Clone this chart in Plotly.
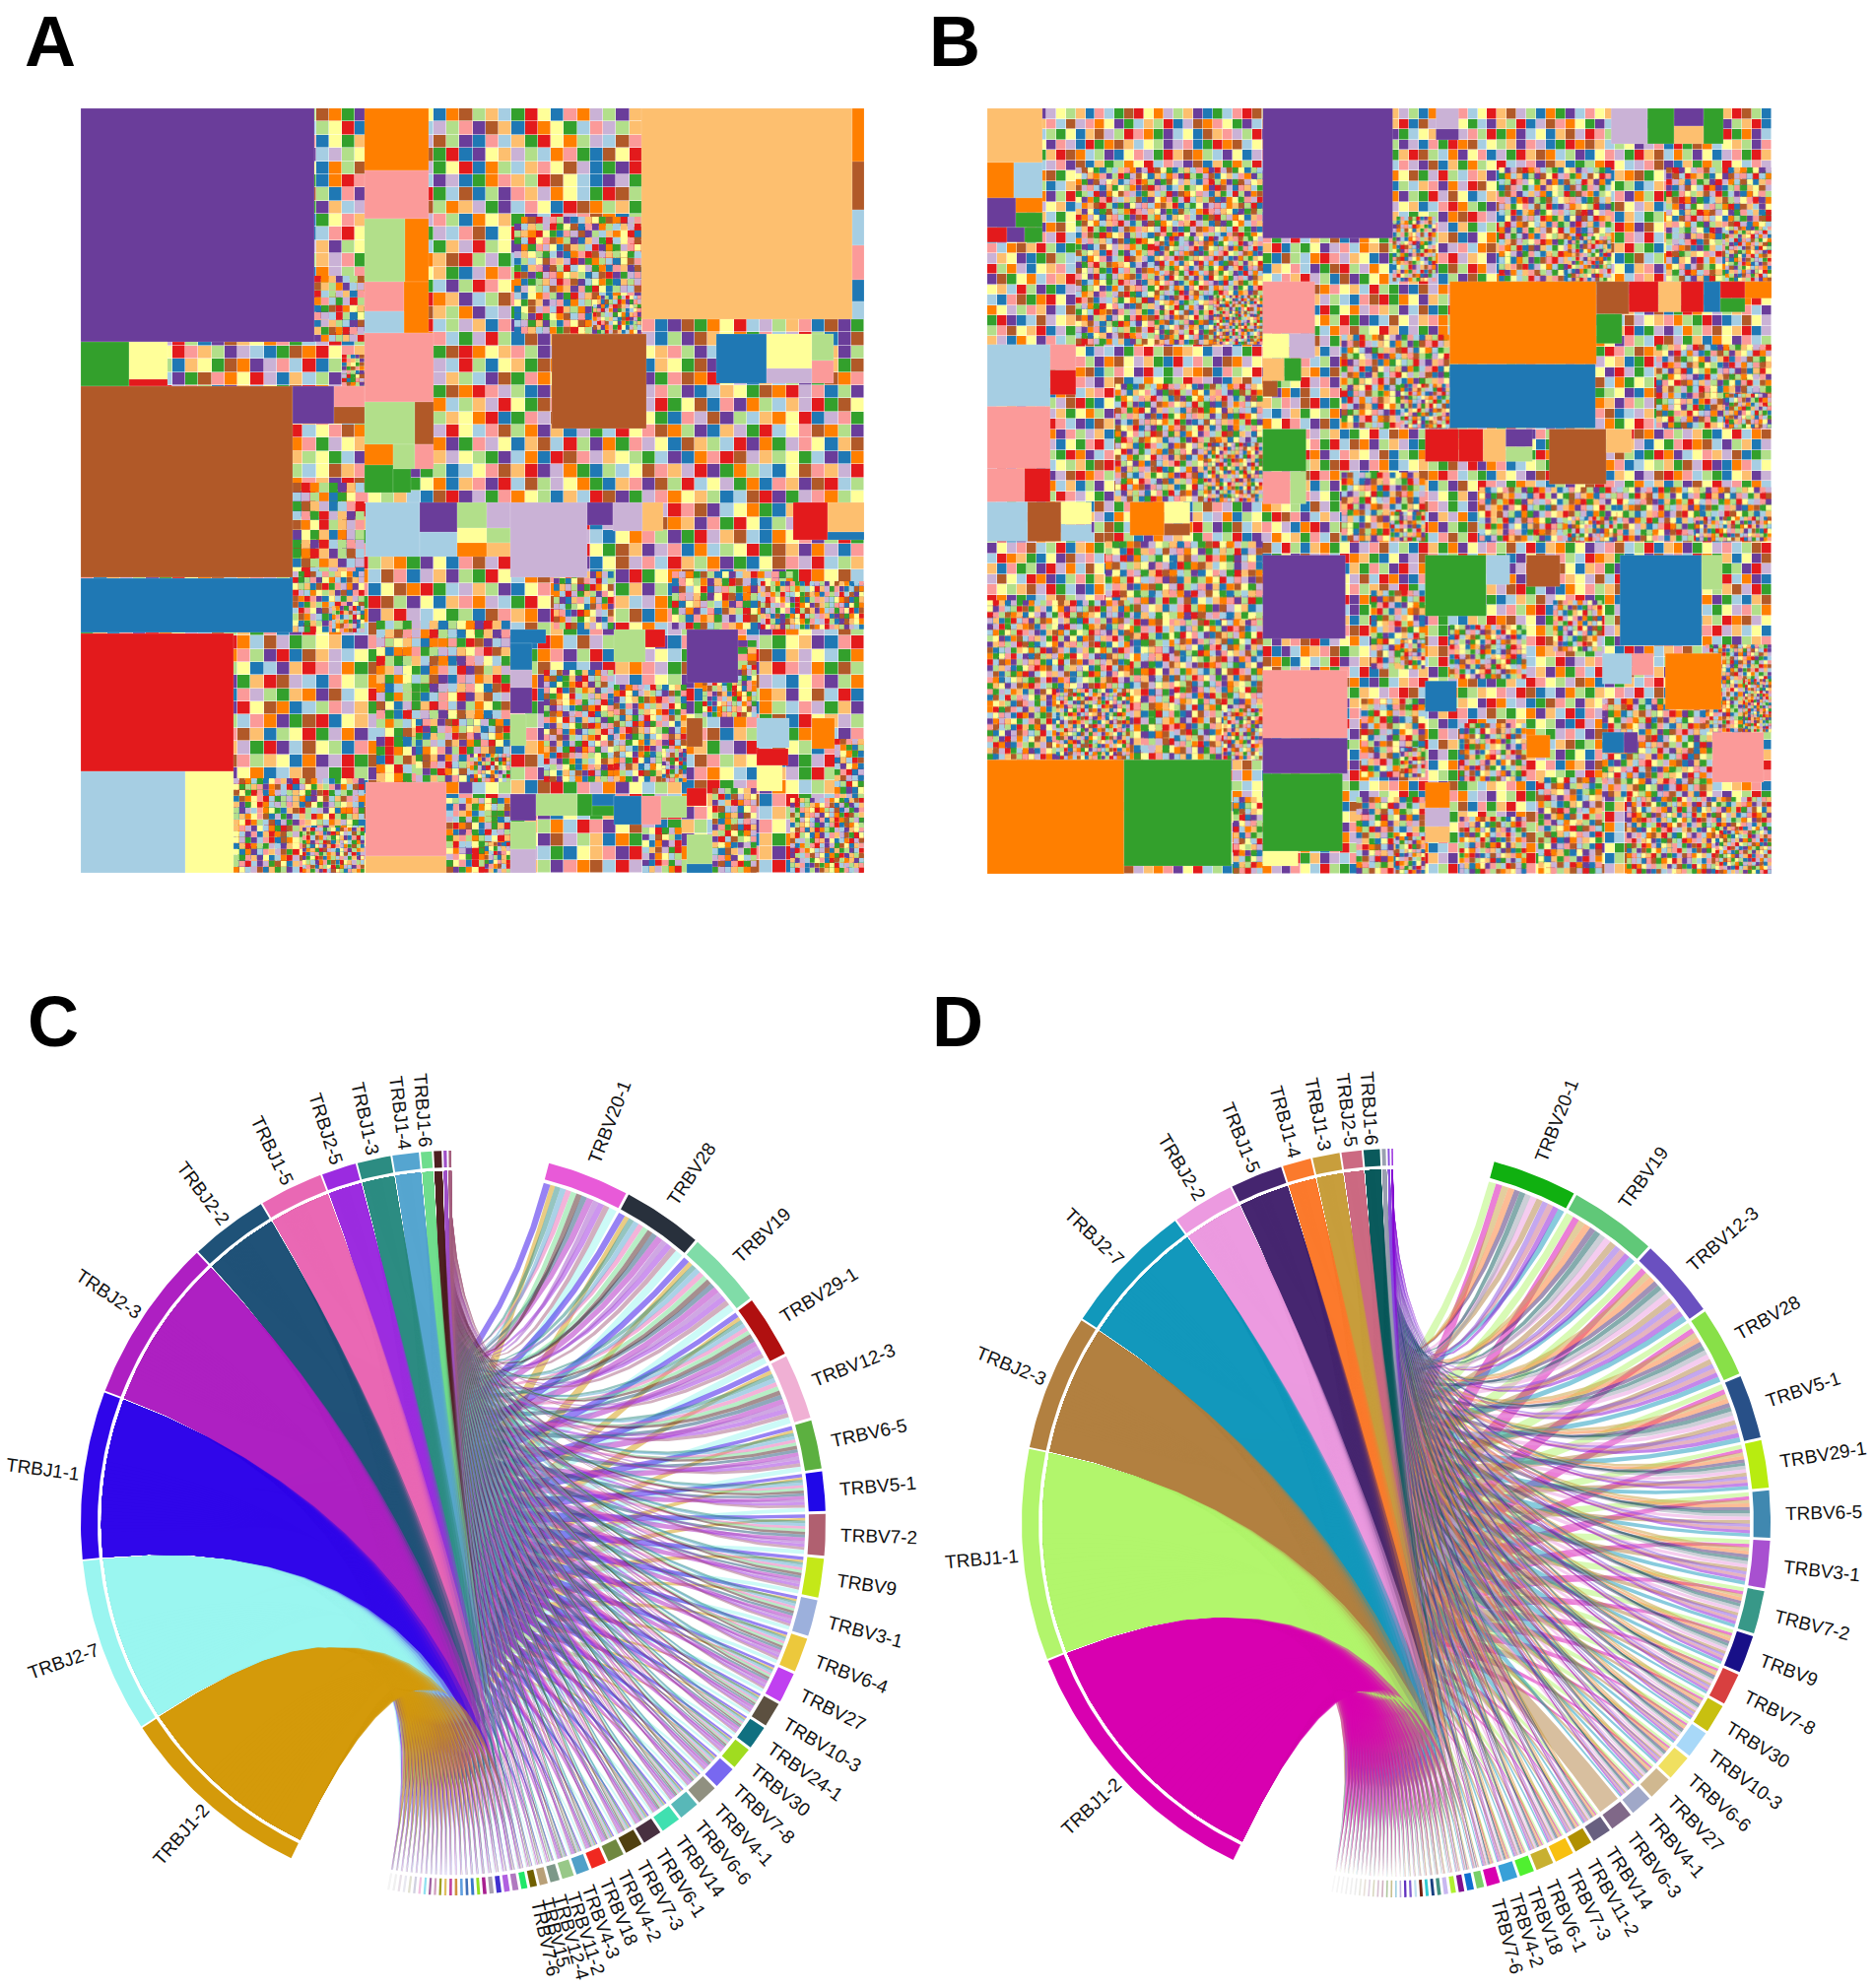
import numpy as np
import plotly.graph_objects as go

PALETTE = dict(a="#a6cee3", b="#1f78b4", c="#b2df8a", d="#33a02c", e="#fb9a99", f="#e31a1c",
               g="#fdbf6f", h="#ff7f00", i="#cab2d6", j="#6a3d9a", k="#ffff99", l="#b15928")
LETTERS = "abcdefghijkl"

# ---- treemap A: colour letter of each small cell, row by row
A_CELLS = """
dacdiagbckhjfgbigclhdjfaeikbhlcgadfkbehicjgalkdfebhiacgkdjlf
agleihfcabkdgjeliackfbhgdkaicejlgbfhkdaeicgjblhkefadcighbjkl
ickgabhhedfljaigcebkdgahfkilcjbeagdfkhcialebgjdkfhaicegblkdj
kbhhedciagkeflgdbjaickhgaeldfbjkgicahedblkfgcjiaehkdbglfcaij
fcdcgalhbjeikadgfkbhclaegjidkfbhcageklibdjfacghkelbidjagcfhk
hgikdbheafjlcgiakdbhfeclgkajibdhegcflkabjidegkfhcalbidjegkca
gdhkacljbeihgfdkalcbejhigkfdalbcjegihkadflcbgeijkahdflcgibej
hbacddjiagekblfhcdjgaiekfblchgidjaekbflhcgdikajebgfhlcidkaeg
idhcdbaekfjglaichbdkegfjaliecbhkgdjafielhbcgkidjaefblhkcgiad
lkbidgfeajchkdlgibaefkhcjgdiaelbkfhcgdjiaklebgfhcdiajgkeblfh
edbfaicjklghbaedfigjckhbleadgifckjbhaleidgfckbhjaegildfkchbj
chcakfgidejbalhkfcgiedjbakhglfcidaejkbghflaicdegjkbahfilcdge
akdlghbecifaljkdgbhicefajlkgdbihecafjdklgibhcefajidlkbgehcfa
jfdbcegiakhlbdgjfaceihklbgdajcfekhilagbdcjfehkailbgdcjafekhi
dfhkjlgcaeibkdhfgjclaeikbdfhgjaclekibdhfgjcaelikbhdfjgclaiek
bfclgjhaidekfblchgjaidkebflgchjaidkefblchgjiadkebflchgjaidke
hkfaciegbjldhkfacigebjlkhdfacigbejldkhfaicgebjldhkfaicgebljd
gkhdeaifcbjlgkhedaifbcjlkgheadifcbljgkhedafibcjlgkhdeaifcbjl
iadblhkfegcjiabdlhfkegcjaibdlfhkgecjiabldhfkgecjaibdlhfkegjc
hjeiafcbgkdlhjieafbcgkldjheiafcbkgdlhjeifacbgkdljhieafbckgdl
kfbigcajdlehkfibgacjdlehfkbigcajldehkfibgacjdelhfkibgacjdlhe
agkdlhfiecbjgakdlfhiecbjakgdlhfeicbjgakdhlfiecjbagkdlhfiebcj
ebjhacgifdklebhjacgfidklbejhacgifkdlebhjagcifdklbejhcagifdlk
ljacghkfbdeiljcaghfkbdielajcgkhfbdeiljacghfkdbeiljcaghkfbied
bgidfkaelhcjgbidfakelhjcbgdifkaelchjgbidafkelhcjbgidfakelhcj
cafjhdeikbgladfjhedikgblcafhjdeikbglafcjhdeikblgcafjhdiekbgl
felgikcdajhbfleigckdajhbeflgikcdjahbfleigkcdajbhefligckdajbh
jhdcbaklegfijdhbcaklgefihjdcbakelgfjihdbcaklegifjdhcabklegif
kidhbgejlfacikdbhegjflcaidkhbgejfalcikhdbgejlcfakidhbegjlfac
gbalfjidehckbgaljfidhekcgablfjidehkcbgafljdiehkgcbalfjdiehck
jakhdbcgiefljkahbdgcifelakjhdbcgeiflajkhbdcgifeljakhdbgcifle
defkbcialghjdefbkiaclgjhedfkbicalghjdefbikcalhgjedfkbcialgjh
iglbahkejcdfgilabkhejdcfilgbahkjecdfgliabkhecjdfiglabhkejcfd
cakfdlgijhebackdflgijebhcakfldgjihebacfkdlgjiebhackfdlgjhibe
hdjkbleiafgchjdbklieafcghdjkbelifagchdjbklieafgchjdbkleifacg
ebgicjdfkhlageicbjdfkhalebigjcdfkahlegibcjfdkhlaebgicjdfhkla
lhfaidgcjbekhlaifdgcjebklhfdaigcjbkehlfaidgjcbeklhafidgcjekb
kjcbgehaidflkcjbegahidflcjkbgehiadfkljcbegaihdlfkcjbgeahidfl
fiadkclbehgjifdakcblehjgfiakdcbleghjfidakclbhejgfiadckblehjg
dgbejfhkialcgdebjfkhialcdgebjhfkialcgdbejfkhaicldgebjfhkialc
ahlicdkgjbefhalidckgbjefahlidckgjebfhalicdgkjbefalhicdkgjbef
jecfbligkadhecjfblgiakdhjecbfliakgdhejcfblgikadhjecflbgikadh
bkjagfheidlckbajgfeihdlcbkjagfhiedclkbajfgheidlcbkajgfeihdlc
gdflaibkechjdgfliabekchjgdflibakechjdgflaibekcjhgdfliabkejch
iecdhgjlkafbeicdghjlakfbiecdhjglkafbeicdghlkjafbiedchgjklafb
kflbhcaeigdjfklhbaceigdjkflbhcaigedjfkbhlcaeigjdkflbhcaeidgj
ahjedlbfgkicaehjdlfbkgicahjedblfgkciahejdlbfgikcajhedlbfkgic
lbgcfkdhiajelgbckfdihjaeblgcfkhdiaejlgbcfkdhijaelbgckfdhiaje
dijfalckebhgidfjalkcbehgdijaflckebghidfjalckebhgdijfalkcbegh
cegkhbjidfalecgkbhjifdlaceghkbjidflaecgkhbijdfalecgkhbjdifla
hkablgidfcejkhbaglidfcjehakblgifdcejkhablgidcfjehkablgidfcej
fdiehjkacgblfdeijhkacblgfdiehjakcgblfdeihjkacgblfdiejhkacgbl
gcjlbefdiahkcgljbfedihakgcjlbedfiahkcgjlbefdiahkgcjlbefdiakh
kbdiagchlfejbkdagichflejkbdiagclhfejbkadgichlfjekbdiagchlfej
ahfejkilbdgchafjeklidbgcahfekjilbdgchafejklibdgcahfjekilbdgc
ilcbhgdafekjlicbgdhafkejilcbhgdafekjlicgbhdafejkilcbgdhafekj
bdkgejfclihadbkegfjclihabdkgejfclhiadbkgejfcilhadbkegjfclhia
ejhalfibkdgcjehlafibdkgcejhalifkbdgcjehlafibkdcgejhlafbikdgc
""".split()

# ---- treemap B: colour letter of each small cell, row by row
B_CELLS = """
gddhljikcgbeadlfkhicgjbdaeflkigchbjdafkelgicbhdjeakfglicbhdjaekgflcibhdjkaegflcb
ckbfdgealiehkjdagcfbilhekdjagcfbiehlkdjacgfbliehkdajgcfbilehkdjacgfbielhkdajcgfb
eifjhacdkbglicfehdjakblgeicfjhdkablgicefhjdakgbliecfdhjakbglifechjdakblgiecfdhja
hlacgkjeibfdhlgakcjiebdfhlakgcjeibfdlhagkcjibedfhlakcgjeibdfhlgackjiebfdlhakgcje
jkbeidgflhacjbkeidfglhcajkbiedfgclhajbkeidgflcahjkebidfglhacjbkeidfglahcjkbiedfg
dhcfkaiejlbgdchkfaeijlbgdhcfakiejblgdchfkaeijlbgdhckfaiejlgbdchfkaieljbgdhcfkaei
aegjbhldkifcaejgbhlkdifcaegbjhldkficaejgbhkldifcaegjbhldfkicaejbghldkifcaegjhbld
iflkdcbagehjfilkdbcagehjiflkdbcgaehjfildkbcagejhiflkdbcaghejfilkdcbagehjilfkdbca
kbgaehjcfdilbkaghejcfdilkbgahejfcdilbkgaehjcdfilkbagehjcfdilbkgaejhcfdilkbgaehjc
hcjdlikgbaefchdjlikgbaefhcjdlkigabefchjdlikgbaefhcdjlikgbeafchjdlkigbaefhcjdlikg
lfeibgadkchjflieabgdkchjlfeibagdckhjflibegadkcjhlfeibgadkhcjfliebgadchkjlfeibgad
gdacfjhlkeibgdcafjhkleibdgacfjlhkeibgdafcjhlkeibgdacfjhklebigdacfhjlkeibgdacfjhl
bjkhdeifagclbkjhdefiagclbjkhedifagclbjhkdeifacglbjkhdefiaglcbjkhdeifagclbkjhdefi
eahlgfcbdkjieahglfcbdjkieahlgfbcdkjieahglcfbdkjieahlgfcbdkijeahlgfcdbkjieaglhfcb
igkjbdlcahfeigjkbdlachfeigkjdblcahfeigkbjdlcahefigkjbdlcafheigjkbdlachfeigkjbdlc
fchibkgeajdlcfhikbgeadjlfchibgkeajdlfcihkbgeajdlcfhibkgeadjlfchikbgejadlfchibkge
jldkhaegficbjdlkhagefibcjldhkaegficbljdkhaegfibcjldkhagefcibljdkhaegficbjldkhage
kgafcjdbilhekagfcdjbilhegkafcjbdilhekgafcdjbliheakgfcjdbilehkgafcjdblihegkafcdjb
abeldhfkjgciabeldfhkgjciabledhfkjgicabelfdhkjgciabeldhkfgjicabeldhfkjgciabeldhfk
hkicegjalbdfkhiecgajlbdfhkicegajlbfdkhiegcjalbdfhkiecgjaldbfkhicegajlbdfhkicgeaj
dfjbalikgehcfdjbalkigehcdfjabliegkhcfdjbalkigehcfdjblaikgecdhfjbalikgehcdfjbalki
celkgfbidjahelckgbfidjahcelkgfbijdahelckfgbidjhaceklgfbidajhelckgfbdijahcelkgfbi
gibhkjeacflditbhkejacflgibhjkeacflidgbhkjeacfldgibkhjeaclfdigbhkjecaflidgbhkjeac
jadfeclhgkbiajdefclhgkbijadfeclhkgbiadjfeclhgbkijadefclhgkbiajdfeclhgkibjadfeclh
lhkigbdfaecjhlkigdbfaecjlhikgbdfeacjhlkigbdfaejclhkigdbfaecjhlikgbdfaecjlhkgibdf
eckjfidaghlbcekjfadighlbeckfjidaghblcekjifdaghlbeckjfiadhglbcekjfidaghlbeckjfidg
bglahdkcfeijglbahkdcfeijbglahdckfiejglbahdkcfeijbglhadkcfeijgblahdkcfiejbglahdkc
idfckjbhlagefidckjbhalgeidfckjhblagefdickjbhlaegidfcjkbhlagefidckjbhlageidfckbjh
akhjgecilfdbkahgjecilfdbakhjgceilfbdkahjgecifldbakhjgecilfdbkahgjecildfbakhjgeci
fjelbaigdkhcjfelbiagdkhcfjelabigdkchjfelbaidgkhcfjleabigdkhcjfelbaigdhkcfjelbiag
cgihdkfeajblgcihdfkeajblcgidhkfeajlbgcihdkefajblcgihdfkeajblgcihdkfeabjlcgihdkfe
dbkfalhjecigbdkafhljecigdbkfahljeicgbdkfalhjcigedbkfalhjeciglbdkaflhjecigdbkfahl
hlajcgibkdefalhjcgbikdefhlajgcibkedfalhjcgibdkefhlajcgikbdefalhcjgibkdefhlajcgbi
kegilbcdfhjaekglibcdfhajkegilcbdfhjaegkilbcdhfjakegilbcdfhajekgilcbdfhjakegilbdc
ifjhebakcgdlfijhebkacgdlifjhbeakcgdlfijehbakgcdlifjhebakcdglfijhebakcgdlifjbheak
acdbgkjilfhecadbkgjilfheacdgbkjilfehcabdgkjilhfeacdbgkijlfhecadbgkjilfheacdbkgji
lkfeidhagbcjklfeidhagbjclkefidhagbcjklfediahgbcjlkfeidhgabcjklfeidhagbcjlkfiedha
gjhblacfeikdjgbhlacfeidkgjhlbacfeikdjghblafceikdgjhblacfekidjgbhlacfeikdgjhblcaf
eidaijhgkcblideajhgkbcleidjahgkcblidejahkgcbleidajhgkclbidaejhgkcbleidahjgkcblid
hbckfdlejagibhkcfdlejgaihbckdflejagibckhfdleajgihbckfdljeagibhckfdlejagihbkcfdle
dlagkeibhfjcldagkiebhfcjdlagekibhfjcldgakeibfhjcdlagkeibhjfcldagkeibhfjcdlakgeib
cfbjihgkdeallfcbjhigkdeacfbjihkgdealcfbjhigkdaelcfbjihgkdealfcbjhigdkealcfbjihgk
jkielacfbghdkjieaclfbghdjkielafcbghdkjielacbfgdhjkieclafbghdkjielacfbghjdkieaclf
afhgdbkjlieafahdgbkjliecafhgbdkjlieafhgdbkjileacfahgdbjkliecafhgdbkjlieafhdgbkjl
gbedcjfihalkbgedjcfihlakgbecdjfihalkbgdecjfihaklgbedcjifhalkbgedjcfihlkagbedcjfi
ilkafhjbcedgklifahjbcegdilkafjhbcedgkilafhjbecdgilkafhjbcdegkilafhjcbedgilkfahjb
ekcglifdajbhkecgilfdajhbekclgifdjabhkecglifdahjbekcgilfdajbhkecglfidajhbekcglifd
fhjdbaglcikefjhbdagclikehfjdbaglickefjhdbaglcekifhjdbagclikefjdhbaglickefhjdabgl
jadkiechfblgajkdiehcfblgjadikechbflgajdkiecfhbljgadkiechfblgajkdiehcfbljgadkiech
bgcfhlikjdeagbfchlkijdeabgcfhlikdjeagbcfhlkijedabgcfhlikjdeagbfclhkijdeabgcfhlik
lefigakbhcdjelfiagkbhcjdlefigakbchdjelfgiakbhcdjlefiagbkhcdjelfigakbhcjdlefigakb
khadjcgelfibhkajdcgelfibkhadcjgelfbikhajdcgelifbkhadjcgeflibhkadjcgelfbikhadjcge
cdikbfjahgelcdkibfjhagelcdikfbjahgeldckibfjahgleicdkbfjahgelcdikbfjhagelcidkbfja
ijgelhbdkacfjigelbhdkacfijgelhdbkacfjiglehdkacfijgelhbdakcfjigelhbdkacfijgelbhda
aefblkcigjhdeafblkicgjhdaefbklcigjhdeafblckigjdhaefblkcigjhdeafkblcigjhdaefblkci
hlbjdgaefkcilhbjgdaefkicilbjdgaefkcilhbjdagefkcihlbjdgafekcilhbjdgaefkcihlbjgdae
dcgkeiflabjhcdgkefilabhjdcgekiflabjhcdgkieflabjhdcgkeiflbajhcdgkeifalbjhdcgkeifl
gkjfahibdlecjgkfahbidlcegkjfahibdelcjgkafhibdlecgkjfhaibdlecjgkfahibldecgkjfahib
ebilcdkhjagfbeilcdhkjagfebildckhjagfbeilcdkhajgfebilcdkhjgafbeilcdkhjagfebilcdhk
ifhaelgdkcjbfihaelgkdcjbifhealgdkcbjfihaelgdkcjbifhalegdkcjbfiheagldkcjbifhaelgd
lajgbfkchdieajlgbfkhcdielajgfbkchdieajlbgfkchdeilajgbfkhcdieajlgbfkchdielajgbfkc
chdkeijbfagldchkeijfbaglcdhkeijbfagldchkiejbfalgchdkeijbfagldchkeijfbagcldhkeijb
bekflahgicjdkbefahlgicdjbekflhagicjdkbefalhgcjidbekflahgicjdkbefahlgicdjbekflahg
jglciadfekbhgjlcaidfekhbjglcidafekbhgjlaicdfebkhjglciadfkebhgjlciadfekhbjglciadf
fihabjlegkcdifhbajlegkdcfihabjelgkcdifhabjlgekcdfihajblegkcdifhbajlegdkcfihabjle
dcakgehbfiljcdagkehfbiljdcakegbhfiljcdakgehbfijldcagkehbfiljcdkagehbfiljdcakgheb
ahijkcfdblgehaijckfdblegahikjcfdblgehajickfdbglehaijkcfdlbgeahijckfdblgehaijkcfd
lbedgfkaihjcbledfgkaihcjlbdegfkaihjcblgedfkaihjclbedgfkaihcjbledgfakihjclbedgfka
gkfcijhledabkgfcijlheabdgkfcihjledabkgfcjihlebadgkfcijhleadbkgcfijhledabgkfcijhl
ejdhlbacgfkijedhlabcgfikejhdlbacfgkijedhlabcgifkejdhlbacgkfijedhalbcgfikejdhlbac
ihgbakeljcdfhigbakljecdfihbgakeljdcfhigabkeljcfdihgbakelcjdfhigbaeklcjdfihgbakel
cfkjdlighbaefckjdilghbeacfkjldighabefckdjlighbaecfkjdlghiabefcjkdlighbeacfkjdlgi
kaeblchfdgijaekbclhfgdijkaebclhfdgjiaekblchdfgijkaeblchfdjgiaekbclhfdgijkaeblhcf
bdlighjekafcdblighejkfacbdlghijekafcdblihgjekacfbdlighjekfacdblighjeakfcbdlgihje
""".split()

# ---- large cells of each treemap: colour letter, left, right, top, bottom in treemap units
A_BLOCKS = [("j",0,237,0,237),("d",0,49,237,282),("k",49,88,237,275),("f",49,88,275,282),
 ("l",0,215,282,476),("b",0,215,477,532),("f",0,155,533,673),("a",0,106,673,776),("k",106,155,673,776),
 ("h",288,353,0,63),("e",288,353,63,112),("c",288,329,112,176),("h",329,353,112,176),("e",288,328,176,206),
 ("h",328,353,176,228),("a",288,328,206,228),("e",288,358,228,298),("c",288,339,298,341),("l",339,358,298,341),
 ("h",288,317,341,362),("c",317,339,341,366),("e",339,358,341,366),("d",288,317,362,390),("d",317,335,366,390),
 ("j",215,257,282,320),("e",257,288,282,303),("l",257,288,303,320),
 ("g",569,783,0,214),("h",783,795,0,54),("l",783,795,54,103),("a",783,795,103,139),("e",783,795,139,174),
 ("b",783,795,174,196),("a",783,795,196,214),("l",478,574,229,325),("b",645,696,229,279),("k",696,742,229,264),
 ("i",696,742,264,279),("c",742,764,229,256),("e",742,764,256,279),
 ("a",289,344,400,455),("a",344,382,430,455),("j",344,382,400,430),("c",382,412,400,426),("i",412,436,400,426),
 ("k",382,412,426,441),("c",412,436,426,441),("h",382,412,441,455),("g",412,436,441,455),("i",436,514,400,476),
 ("j",514,540,400,423),("i",540,570,400,429),("g",570,591,400,429),("f",723,758,400,438),("g",758,795,400,430),
 ("b",758,795,430,438),("j",615,667,529,583),("c",541,573,529,562),("f",573,593,529,547),("e",289,371,684,759),
 ("g",289,371,759,776),("j",436,462,696,723),("c",462,504,696,718),("d",504,519,696,718),("b",519,541,696,708),
 ("d",519,541,708,718),("b",541,569,698,727),("e",569,589,698,727),("c",589,615,698,720),("c",436,462,724,752),
 ("i",436,462,752,776),("c",615,641,737,767),("b",615,641,767,776),("a",686,719,619,649),("f",686,718,650,667),
 ("k",686,712,667,693),("h",742,765,619,650),("l",615,631,619,648),("c",436,452,615,647),("f",615,635,690,708),
 ("b",436,472,529,543),("b",436,458,543,570),("i",436,458,570,588),("j",436,458,588,614)]

B_BLOCKS = [("g",0,56,0,55),("h",0,27,55,91),("a",27,56,55,91),("j",0,29,91,121),("h",29,56,91,106),("d",29,56,106,121),
 ("f",0,20,121,136),("j",20,38,121,136),("d",38,56,121,136),("a",0,64,240,303),("e",0,64,303,366),("e",0,38,366,400),
 ("f",38,64,366,400),("e",64,90,240,266),("f",64,90,266,291),("a",0,41,400,440),("l",41,75,400,440),("k",75,106,400,423),
 ("a",75,106,423,440),("h",145,180,400,434),("k",180,206,400,422),("l",180,206,422,434),("h",0,139,662,778),("d",139,248,662,770),
 ("j",280,412,0,132),("e",280,333,176,229),("k",280,307,229,254),("i",307,333,229,254),("g",280,302,254,277),("d",302,319,254,277),
 ("l",280,295,277,293),("d",280,324,326,369),("e",280,308,369,402),("c",308,324,369,402),("j",280,364,454,539),("e",280,366,571,640),
 ("j",280,366,640,676),("d",280,361,676,755),("k",280,316,755,770),("h",470,619,176,260),("b",470,618,260,325),("l",619,652,176,209),
 ("f",652,682,176,207),("g",682,705,176,207),("f",705,728,176,207),("b",728,745,176,207),("f",745,770,176,193),("d",745,770,193,207),
 ("h",770,797,176,193),("d",619,645,209,239),("f",445,479,326,359),("f",479,504,326,359),("g",504,527,326,359),("j",527,554,326,344),
 ("c",527,554,344,359),("l",571,629,326,382),("g",629,655,326,350),("i",456,479,0,21),("j",456,479,21,32),("i",634,671,0,36),
 ("d",671,698,0,36),("j",698,728,0,18),("g",698,728,18,36),("d",728,748,0,36),("d",445,507,454,516),("a",507,531,454,484),
 ("l",548,582,454,486),("b",643,726,454,546),("c",726,747,454,489),("a",625,655,554,585),("e",655,677,554,576),("h",689,746,554,611),
 ("b",445,477,582,613),("h",548,572,637,660),("e",737,789,634,685),("b",625,647,634,655),("j",647,661,634,655),("h",445,470,685,711),
 ("i",445,470,711,730),("g",445,470,730,746)]

# ---- corners of the treemaps where the cells get finer: left, right, top, bottom, cell size
A_FINE = [(237,288,170,237,7),(265,288,250,282,4),(440,569,110,229,7),(520,569,190,229,4),(215,288,470,532,6),(255,288,505,532,4),
 (155,288,680,776,6),(225,288,730,776,4),(340,436,620,684,7),(395,436,655,684,4),(371,436,700,776,6),(410,436,745,776,4),
 (470,541,570,684,6),(541,615,585,684,6),(590,615,650,684,4),(631,686,565,618,5),(667,686,540,618,7),(765,795,640,776,6),(720,795,700,776,5),
 (300,436,520,684,9),(480,541,470,529,6),(600,723,470,529,7),(690,795,480,529,5),(641,686,690,776,6),(570,610,730,776,6),(215,288,380,476,9)]

B_FINE = [(90,280,60,240,6),(170,280,130,240,5),(230,280,190,240,3),(130,280,280,400,6),(220,280,340,400,4),(0,145,500,662,6),(70,145,590,662,4),
 (190,280,520,662,6),(240,280,610,662,4),(412,456,110,176,4),(520,634,60,176,6),(590,634,130,176,4),(690,797,60,176,6),(750,797,120,176,4),
 (360,470,230,325,6),(420,470,280,325,4),(680,797,240,325,6),(750,797,290,325,4),(360,445,370,440,6),(410,445,410,440,4),(500,640,385,440,6),
 (590,640,415,440,4),(640,797,385,440,6),(720,797,415,440,4),(120,280,440,662,7),(390,445,490,570,6),(420,445,540,570,4),(380,445,600,680,6),
 (420,445,650,680,4),(375,445,700,778,6),(415,445,740,778,4),(470,548,525,580,5),(575,625,500,552,5),(730,797,545,634,4),(770,797,580,634,3),
 (480,548,625,684,5),(560,625,680,778,6),(650,797,700,778,5),(740,797,730,778,4),(480,548,720,778,5),(250,280,700,778,6),(625,737,600,700,6)]

# ---- chord C
C_J_NAMES = ["TRBJ1-2","TRBJ2-7","TRBJ1-1","TRBJ2-3","TRBJ2-2","TRBJ1-5","TRBJ2-5","TRBJ1-3","TRBJ1-4","TRBJ1-6","TRBJ2-1","TRBJ2-4","TRBJ2-6"]
C_J_SIZE = [31.1,27.5,26.4,26.0,12.4,10.2,5.7,5.5,4.4,2.0,1.5,0.8,0.7]
C_J_COLOR = ["#d49a0a","#9af5f0","#2f05ea","#ae1fc2","#1f5278","#e968b4","#9b2be0","#2c8c82","#55a5d0","#6fdd8d","#4d1f20","#a050c8","#a5607f"]
C_V_NAMES = ["TRBV20-1","TRBV28","TRBV19","TRBV29-1","TRBV12-3","TRBV6-5","TRBV5-1","TRBV7-2","TRBV9","TRBV3-1","TRBV6-4","TRBV27","TRBV10-3","TRBV24-1","TRBV30","TRBV7-8","TRBV4-1","TRBV6-6","TRBV14","TRBV6-1","TRBV7-3","TRBV4-2","TRBV18","TRBV4-3","TRBV11-2","TRBV12-4","TRBV15","TRBV7-6"] + [""]*24
C_V_SIZE = [13.2,12.9,12.3,10.1,10.6,8.0,6.6,6.9,6.5,6.1,5.8,5.2,4.3,4.1,3.9,4.0,3.7,3.6,3.5,3.4,3.2,3.0,2.8,2.5,2.3,1.9,1.7,1.5,
            1.4,1.35,1.3,1.2,1.1,1.0,.9,.9,.85,.85,.85,.85,.8,.8,.8,.8,.8,.8,.8,.8,.8,.8,.8,.8]
C_V_COLOR = ["#e85ad8","#28303c","#80dca8","#b01010","#f0b0d4","#5cb040","#2008e8","#b06070","#c4e818","#9cb0dc","#ecc83c","#c040f0","#5c5040","#107080","#a0dc20","#7868f0","#909080","#58b8b8","#40e0b0","#483040","#504010","#708840","#f02820","#50a0c8","#98c888","#7c9888","#b8a078","#706000",
             "#20e868","#b078c0","#b060e0","#4030d0","#a8a0b0","#a82090","#90e020","#3878c8","#4070b8","#60a0e0","#d09040","#c040a0","#e0c060","#a0a020","#d0a0c0","#a060a0","#90e0f0","#f0c0e0","#d0d0e0","#e0e0d0","#e8e8f0","#e8e0e8","#f0f0f0","#f4f4f4"]
C_STRIPE = {"TRBJ1-1":1.1,"TRBJ1-2":.8,"TRBJ1-3":.9,"TRBJ1-4":.9,"TRBJ1-5":.9,"TRBJ1-6":.9,"TRBJ2-1":.9,"TRBJ2-2":.9,"TRBJ2-3":1.1,"TRBJ2-4":.9,"TRBJ2-5":1.0,"TRBJ2-6":.9,"TRBJ2-7":1.3}

# ---- chord D
D_J_NAMES = ["TRBJ1-2","TRBJ1-1","TRBJ2-3","TRBJ2-7","TRBJ2-2","TRBJ1-5","TRBJ1-4","TRBJ1-3","TRBJ2-5","TRBJ1-6","TRBJ2-1","TRBJ2-4","TRBJ2-6"]
D_J_SIZE = [42.9,33.0,21.4,21.0,9.9,8.4,4.7,4.5,3.4,2.8,.9,.6,.5]
D_J_COLOR = ["#d800b0","#b2f56c","#b28040","#1198bb","#ec9ae0","#45256f","#fb7a2c","#c89e3c","#cc6a82","#0a5a5c","#9aa0b0","#8a50e0","#8a10d8"]
D_V_NAMES = ["TRBV20-1","TRBV19","TRBV12-3","TRBV28","TRBV5-1","TRBV29-1","TRBV6-5","TRBV3-1","TRBV7-2","TRBV9","TRBV7-8","TRBV30","TRBV10-3","TRBV6-6","TRBV27","TRBV4-1","TRBV6-3","TRBV14","TRBV11-2","TRBV7-3","TRBV6-1","TRBV18","TRBV4-2","TRBV7-6"] + [""]*28
D_V_SIZE = [13.6,14.0,12.8,11.3,10.3,7.8,7.7,7.8,7.1,6.3,5.4,4.9,4.7,4.4,4.1,3.8,4.0,3.4,3.2,3.4,3.2,2.7,2.8,2.5,
            1.6,1.5,1.3,1.2,1.1,1.0,.9,.9,.9,.8,.8,.8,.7,.7,.7,.7,.7,.7,.7,.7,.7,.7,.7,.7,.7,.7,.7,.7]
D_V_COLOR = ["#10b010","#60c878","#6a50c0","#88e048","#285088","#b8ec10","#4088b0","#a850d0","#389888","#181088","#d84040","#c8c010","#a8d8f8","#f0e060","#d0b890","#a0a8c8","#806888","#686080","#b09000","#f8c010","#c8b030","#50f030","#38a0d8","#d800b0",
             "#78d068","#1070d0","#801090","#b0f030","#c8b8f0","#409080","#184080","#30c8d0","#702010","#c0e0f0","#8060d0","#6030c0","#c0b0e0","#a0d0e0","#c8c090","#b0c8a0","#d0b0c0","#d8c0d0","#d8d8c0","#e0d0e0","#e8e0d8","#e8e8e0","#ececec","#f0f0f0","#f0f0f0","#f4f4f4","#f4f4f4","#f8f8f8"]
D_STRIPE = {"TRBJ1-1":1.15,"TRBJ1-2":1.0,"TRBJ1-3":1.0,"TRBJ1-4":1.0,"TRBJ1-5":.9,"TRBJ1-6":.9,"TRBJ2-1":.9,"TRBJ2-2":1.0,"TRBJ2-3":1.0,"TRBJ2-4":.9,"TRBJ2-5":.9,"TRBJ2-6":.9,"TRBJ2-7":1.0}
D_SOLO = {"TRBV6-3":"TRBJ2-3"}
HIDDEN_J = {"TRBJ2-1","TRBJ2-4","TRBJ2-6"}
PANELS = ["A","B","C","D"]

W, H = 1902, 2018
SLOT = .4
SPREAD = .6
fig = go.Figure()
SCALE = [[v, c] for i, ch in enumerate(LETTERS) for v, c in ((i/12, PALETTE[ch]), ((i+1)/12, PALETTE[ch]))]


def treemap(rows, blocks, fine, w, h, xa, ya):
    nc = max(len(r) for r in rows)
    idx = [[LETTERS.find(ch) for ch in (r*3)[:nc]] for r in rows]
    nr = len(rows)

    def layer(z, x0, dx, y0, dy, gap):
        fig.add_trace(go.Heatmap(z=z, x0=x0, dx=dx, y0=y0, dy=dy, zmin=-.5, zmax=11.5, colorscale=SCALE,
                                 showscale=False, xgap=gap, ygap=gap, hoverinfo="skip", xaxis=xa, yaxis=ya))
    layer(idx, w/nc/2, w/nc, h/nr/2, h/nr, .5)
    for k, (l, r, t, b, cell) in enumerate(sorted(fine, key=lambda f: -f[4])):
        mx, my = max(1, int((r-l)/cell)), max(1, int((b-t)/cell))
        dx, dy = (r-l)/mx, (b-t)/my
        z = [[idx[(k*7+i) % nr][(k*13+j) % nc] for j in range(mx)] for i in range(my)]
        layer(z, l+dx/2, dx, t+dy/2, dy, .3)
    fig.add_trace(go.Bar(x=[(b[1]+b[2])/2 for b in blocks], width=[b[2]-b[1] for b in blocks],
                         base=[b[3] for b in blocks], y=[b[4]-b[3] for b in blocks],
                         marker=dict(color=[PALETTE[b[0]] for b in blocks], line=dict(color="rgba(255,255,255,.3)", width=.5)),
                         hoverinfo="skip", showlegend=False, xaxis=xa, yaxis=ya))


def pol(r, deg):
    t = np.radians(deg)
    return r*np.cos(t), r*np.sin(t)


def bez(x0, y0, x1, y1, n=16):
    t = np.linspace(0, 1, n)[1:-1]
    return (1-t)**2*x0 + t**2*x1, (1-t)**2*y0 + t**2*y1


def text_len(s):
    em = dict(T=.611, R=.722, B=.667, V=.667, J=.5)
    em["-"] = .333
    return sum(em.get(c, .556) for c in s)


def chord(jn, js, jc, vn, vs, vc, stripe, solo, R, vstart, xa, ya, annos):
    order = sorted(jn)
    jcol = dict(zip(jn, jc))
    a = 244.2; jext = {}
    for n, s in zip(jn, js):
        jext[n] = (a, a-(s-.3)); a -= s
    a = vstart
    vext = []
    for s in vs:
        vext.append((a, a-(s-.45))); a -= s
    rr = .945
    nb = sum(1 for n in vn if n)
    tot = sum(stripe[o] for o in order)

    def links(names, vrange, whole):
        for name in names:
            hi, lo = jext[name]
            rgb = tuple(int(jcol[name][i:i+2], 16) for i in (1, 3, 5))
            col = "rgba(%d,%d,%d,.5)" % rgb
            before = sum(stripe[o] for o in order[:order.index(name)])
            for vi in vrange:
                vname = vn[vi]
                v0, v1 = vext[vi]
                if vname in solo:
                    if solo[vname] != name:
                        continue
                    sa, sb = v0, v1
                else:
                    sa = v0 + (v1-v0)*before/tot
                    sb = v0 + (v1-v0)*(before+stripe[name])/tot
                if whole:
                    f0, f1 = 0.0, 1.0
                else:
                    p = vi/(nb-1)*SPREAD
                    f0, f1 = p, min(1, p+SLOT)
                ja = np.linspace(hi-(hi-lo)*f1, hi-(hi-lo)*f0, 6)
                jx, jy = pol(rr, ja)
                vx, vy = pol(rr, np.array([sb, sa]))
                b1x, b1y = bez(jx[-1], jy[-1], vx[0], vy[0])
                b2x, b2y = bez(vx[1], vy[1], jx[0], jy[0])
                fig.add_trace(go.Scatter(x=np.round(np.concatenate([jx, b1x, vx, b2x]), 4), y=np.round(np.concatenate([jy, b1y, vy, b2y]), 4),
                                         mode="lines", line=dict(width=0), fill="toself", fillcolor=col,
                                         hoverinfo="skip", showlegend=False, xaxis=xa, yaxis=ya))
    # large V genes first, lowest J underneath; the many small V genes take the whole J sector on top
    links(jn, range(nb), False)
    links(list(reversed(jn)), range(nb, len(vn)), True)

    def ring(a0, a1, col):
        ang = np.linspace(a0, a1, max(3, int(abs(a0-a1))+3))
        x1, y1 = pol(1.0, ang); x2, y2 = pol(.955, ang[::-1])
        fig.add_trace(go.Scatter(x=np.round(np.r_[x1, x2], 4), y=np.round(np.r_[y1, y2], 4), mode="lines", line=dict(width=0),
                                 fill="toself", fillcolor=col, hoverinfo="skip", showlegend=False, xaxis=xa, yaxis=ya))

    def label(s, ang, r0):
        L = text_len(s)*19/R
        rot = -ang if np.cos(np.radians(ang)) >= 0 else 180-ang
        x, y = pol(r0+L/2, ang)
        annos.append(dict(text=s, x=float(x), y=float(y), xref=xa, yref=ya, showarrow=False, xanchor="center", yanchor="middle",
                          textangle=float(rot), font=dict(family="Liberation Sans", size=19, color="#111")))
    for n, c in zip(jn, jc):
        ring(jext[n][0], jext[n][1], c)
        if n not in HIDDEN_J:
            label(n, sum(jext[n])/2, 1.012)
    for (v0, v1), n, c in zip(vext, vn, vc):
        ring(v0, v1, c)
        if n:
            label(n, (v0+v1)/2, 1.04)


annos = []
treemap(A_CELLS, A_BLOCKS, A_FINE, 795, 776, "x", "y")
treemap(B_CELLS, B_BLOCKS, B_FINE, 797, 778, "x2", "y2")
chord(C_J_NAMES, C_J_SIZE, C_J_COLOR, C_V_NAMES, C_V_SIZE, C_V_COLOR, C_STRIPE, {}, 378, 75.1, "x3", "y3", annos)
chord(D_J_NAMES, D_J_SIZE, D_J_COLOR, D_V_NAMES, D_V_SIZE, D_V_COLOR, D_STRIPE, D_SOLO, 380, 74.8, "x4", "y4", annos)

for s, px, py in zip(PANELS, (23, 941, 26, 944), (42, 42, 1037, 1037)):
    annos.append(dict(text="<b>%s</b>" % s, x=px/W, y=1-py/H, xref="paper", yref="paper", showarrow=False, xanchor="left",
                      yanchor="middle", font=dict(family="Liberation Sans", size=72, color="#000")))


def axis(px0, px1, rng, length, invert=False):
    a, b = (1-px1/length, 1-px0/length) if invert else (px0/length, px1/length)
    return dict(domain=[a, b], range=rng, visible=False, fixedrange=True, showgrid=False, zeroline=False)


layout = dict(width=W, height=H, margin=dict(l=0, r=0, t=0, b=0), paper_bgcolor="white", plot_bgcolor="white",
              barmode="overlay", showlegend=False, annotations=annos)
layout["xaxis"] = dict(axis(82, 877, [0, 795], W), anchor="y")
layout["yaxis"] = dict(axis(110, 886, [776, 0], H, True), anchor="x")
layout["xaxis2"] = dict(axis(1002, 1798, [0, 797], W), anchor="y2")
layout["yaxis2"] = dict(axis(110, 887, [778, 0], H, True), anchor="x2")
cy = 1546
for k, cx, R, l, r in (("3", 460, 378, 0, 925), ("4", 1417, 380, 945, 1890)):
    layout["xaxis"+k] = dict(axis(l, r, [(l-cx)/R, (r-cx)/R], W), anchor="y"+k)
    layout["yaxis"+k] = dict(axis(1060, 2018, [(cy-2018)/R, (cy-1060)/R], H, True), anchor="x"+k)
fig.update_layout(**layout)
fig.write_html("out.html", config=dict(displayModeBar=False), post_script="document.body.style.margin='0';")
